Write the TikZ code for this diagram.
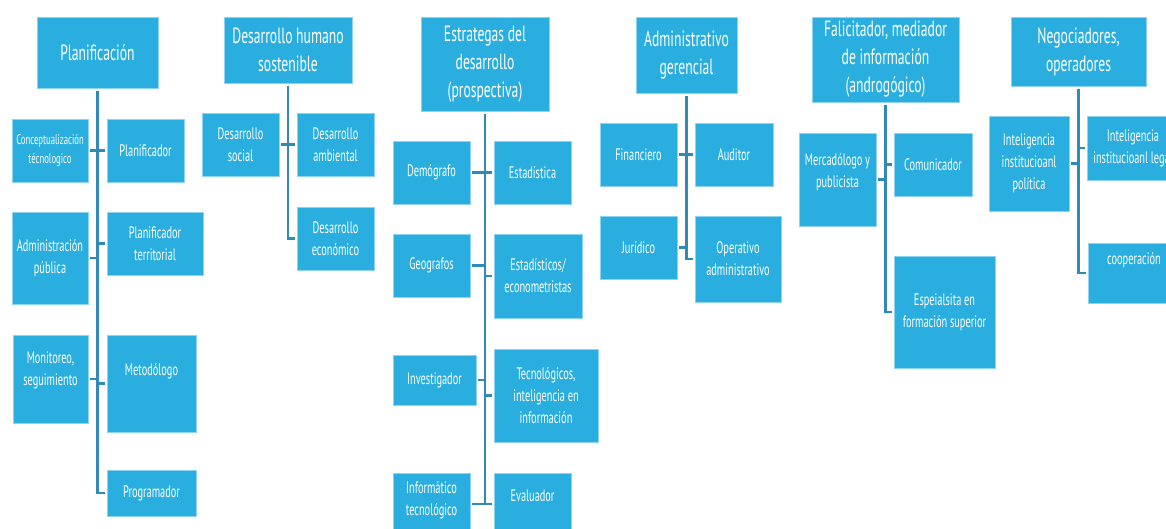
\documentclass[tikz,border=0pt]{standalone}
\usepackage{fontspec}
\setmainfont{PT Sans}[FakeStretch=0.62]
\usetikzlibrary{positioning}
\usepackage{xcolor}
\definecolor{boxblue}{HTML}{29AEDF}
\definecolor{boxedge}{HTML}{8ED4F0}
\definecolor{linkblue}{HTML}{3189B8}

\begin{document}
\begin{tikzpicture}[
    x=0.75pt, y=-0.75pt,
    every node/.style={text=white, align=center},
    head/.style={fill=boxblue, draw=boxedge, line width=0.5pt, outer sep=2pt,
        font=\fontsize{16.5}{21}\selectfont},
    item/.style={fill=boxblue, draw=boxedge, line width=0.5pt, outer sep=1.5pt,
        font=\fontsize{12.5}{16.5}\selectfont},
    small/.style={font=\fontsize{10.5}{14}\selectfont, inner xsep=2pt},
    sz/.style 2 args={minimum width=#1*0.75pt, minimum height=#2*0.75pt},
    link/.style={draw=linkblue, line width=1.8pt}
]
\clip (0,0) rectangle (1166,528);

% Planificacion
\node[head, sz={121}{71}] (pl) at (97.5,52.5) {Planificación};
\node[item, small, sz={76}{63}] (pl1) at (50,150.5) {Conceptualización\\técnologico};
\node[item, sz={77}{63}] (pl2) at (145.5,150.5) {Planificador};
\node[item, sz={76}{92}] (pl3) at (50,258) {Administración\\pública};
\node[item, sz={96}{63}] (pl4) at (155,243.5) {Planificador\\territorial};
\node[item, sz={75}{88}, text depth=16pt] (pl5) at (50.5,379) {Monitoreo,\\seguimiento};
\node[item, sz={89}{97}, text depth=21pt] (pl6) at (151.5,383.5) {Metodólogo};
\node[item, sz={89}{46}] (pl7) at (151.5,493) {Programador};

\draw[link] (pl.south) |- (pl7.west);
\draw[link] (pl1.east) -- (pl1.east -| pl.south);
\draw[link] (pl2.west) -- (pl2.west -| pl.south);
\draw[link] (pl3.east) -- (pl3.east -| pl.south);
\draw[link] (pl4.west) -- (pl4.west -| pl.south);
\draw[link] (pl5.east) -- (pl5.east -| pl.south);
\draw[link] (pl6.west) -- (pl6.west -| pl.south);

% Desarrollo humano
\node[head, sz={128}{66}] (dh) at (288,50) {Desarrollo humano\\sostenible};
\node[item, sz={77}{63}] (dh1) at (240.5,144.5) {Desarrollo\\social};
\node[item, sz={77}{63}] (dh2) at (335.5,144.5) {Desarrollo\\ambiental};
\node[item, sz={77}{63}] (dh3) at (335.5,238.5) {Desarrollo\\económico};

\draw[link] (dh.south) |- (dh3.west);
\draw[link] (dh1.east) -- (dh1.east -| dh.south);
\draw[link] (dh2.west) -- (dh2.west -| dh.south);

% Estrategas
\node[head, sz={128}{94}] (es) at (485,64) {Estrategas del\\desarrollo\\(prospectiva)};
\node[item, sz={77}{63}] (es1) at (431.5,172.5) {Demógrafo};
\node[item, sz={77}{63}] (es2) at (532.5,172.5) {Estadística};
\node[item, sz={77}{63}] (es3) at (431.5,265.5) {Geografos};
\node[item, sz={88}{84}] (es4) at (538,276) {Estadísticos/\\econometristas};
\node[item, sz={83}{50}] (es5) at (434.5,380) {Investigador};
\node[item, sz={104}{93}] (es6) at (546,395.5) {Tecnológicos,\\inteligencia en\\información};
\node[item, sz={77}{62}, text depth=8pt] (es7) at (431.5,504) {Informático\\tecnológico};
\node[item, sz={77}{62}, text depth=13pt] (es8) at (532.5,504) {Evaluador};

\draw[link] (es.south) |- (es8.west);
\draw[link] (es1.east) -- (es1.east -| es.south);
\draw[link] (es2.west) -- (es2.west -| es.south);
\draw[link] (es3.east) -- (es3.east -| es.south);
\draw[link] (es4.west) -- (es4.west -| es.south);
\draw[link] (es5.east) -- (es5.east -| es.south);
\draw[link] (es6.west) -- (es6.west -| es.south);
\draw[link] (es7.east) -- (es7.east -| es.south);

% Administrativo
\node[head, sz={101}{76}] (ad) at (686.5,55) {Administrativo\\gerencial};
\node[item, sz={77}{63}] (ad1) at (638.5,154.5) {Financiero};
\node[item, sz={78}{63}] (ad2) at (734,154.5) {Auditor};
\node[item, sz={77}{63}] (ad3) at (638.5,247.5) {Jurídico};
\node[item, sz={86}{86}] (ad4) at (738,259) {Operativo\\administrativo};

\draw[link] (ad.south) |- (ad4.west);
\draw[link] (ad1.east) -- (ad1.east -| ad.south);
\draw[link] (ad2.west) -- (ad2.west -| ad.south);
\draw[link] (ad3.east) -- (ad3.east -| ad.south);

% Facilitador
\node[head, sz={147}{85}] (fa) at (885.5,59.5) {Falicitador, mediador\\de información\\(androgógico)};
\node[item, sz={77}{93}, text depth=14pt] (fa1) at (837.5,179.5) {Mercadólogo y\\publicista};
\node[item, sz={78}{63}] (fa2) at (933,164.5) {Comunicador};
\node[item, sz={101}{112}] (fa3) at (944.5,312) {Espeialsita en\\formación superior};

\draw[link] (fa.south) |- (fa3.west);
\draw[link] (fa1.east) -- (fa1.east -| fa.south);
\draw[link] (fa2.west) -- (fa2.west -| fa.south);

% Negociadores
\node[head, sz={135}{69}] (ne) at (1078.5,51.5) {Negociadores,\\operadores};
\node[item, sz={80}{95}] (ne1) at (1029,163.5) {Inteligencia\\institucioanl\\política};
\node[item, sz={92}{64}] (ne2) at (1133,148) {Inteligencia\\institucioanl legal};
\node[item, sz={92}{60}, text depth=22pt] (ne3) at (1134,273) {cooperación};

\draw[link] (ne.south) |- (ne3.west);
\draw[link] (ne1.east) -- (ne1.east -| ne.south);
\draw[link] (ne2.west) -- (ne2.west -| ne.south);

\end{tikzpicture}
\end{document}
